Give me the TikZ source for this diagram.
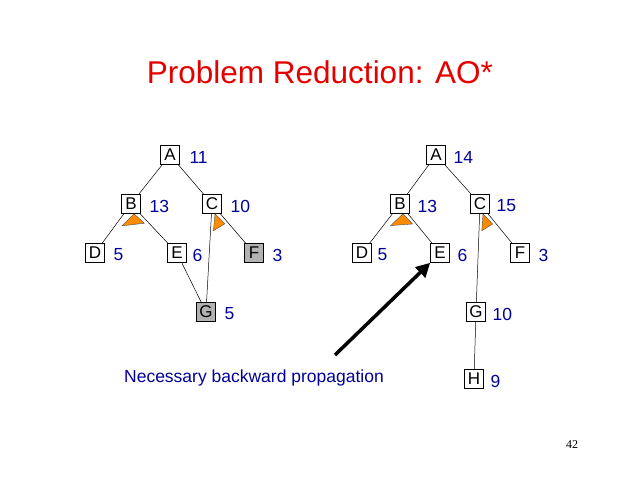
\documentclass[tikz,border=0pt]{standalone}
\usepackage{fontspec}
\setmainfont{Liberation Sans}
\newfontfamily\serifnum{Liberation Serif}
\usetikzlibrary{calc,arrows.meta}
\begin{document}
\begin{tikzpicture}[x=1pt,y=-1pt,
  box/.style={draw,line width=0.6pt,fill=white,minimum width=19pt,minimum height=19pt,inner sep=0pt,font=\fontsize{17}{17}\selectfont},
  gbox/.style={box,fill=gray!60},
  val/.style={text=blue!60!black,font=\fontsize{17.5}{17.5}\selectfont,anchor=west},
  edge/.style={line width=0.5pt},
  andarc/.style={fill=orange!90!yellow,draw=black!70,line width=0.4pt}]
\useasboundingbox (0,0) rectangle (638,479);
\node[text=red!90!black,font=\fontsize{31.5}{31.5}\selectfont] (title) at (320,72) {Problem Reduction: AO*};
% left tree
\node[box] (A1) at (170,155) {A};
\node[box] (B1) at (131,204) {B};
\node[box] (C1) at (212,204) {C};
\node[box] (D1) at (95,253) {D};
\node[box] (E1) at (177,253) {E};
\node[gbox] (F1) at (254,253) {F};
\node[gbox] (G1) at (206,312) {G};
\node[val] (a1) at (186,157) {11};
\node[val] (b1) at (146,206) {13};
\node[val] (c1) at (227,206) {10};
\node[val] (d1) at (110,255) {5};
\node[val] (e1) at (189,255) {6};
\node[val] (f1) at (269,255) {3};
\node[val] (g1) at (221,314) {5};
\draw[edge] (A1) -- (B1); \draw[edge] (A1) -- (C1);
\draw[edge] (B1) -- (D1); \draw[edge] (B1) -- (E1);
\draw[edge] (C1) -- (G1); \draw[edge] (C1) -- (F1);
\draw[edge] (E1) -- (G1);
% right tree
\node[box] (A2) at (436,155) {A};
\node[box] (B2) at (400,204) {B};
\node[box] (C2) at (480,204) {C};
\node[box] (D2) at (362,253) {D};
\node[box] (E2) at (440,253) {E};
\node[box] (F2) at (520,253) {F};
\node[box] (G2) at (476,312) {G};
\node[box] (H2) at (474,379) {H};
\node[val] (a2) at (450,157) {14};
\node[val] (b2) at (414,206) {13};
\node[val] (c2) at (493,206) {15};
\node[val] (d2) at (374,255) {5};
\node[val] (e2) at (454,255) {6};
\node[val] (f2) at (535,255) {3};
\node[val] (g2) at (489,314) {10};
\node[val] (h2) at (487,381) {9};
\draw[edge] (A2) -- (B2); \draw[edge] (A2) -- (C2);
\draw[edge] (B2) -- (D2); \draw[edge] (B2) -- (E2);
\draw[edge] (C2) -- (G2); \draw[edge] (C2) -- (F2);
\draw[edge] (G2) -- (H2);
% AND arcs
\foreach \p/\l/\r in {B1/D1/E1,C1/G1/F1,B2/D2/E2,C2/G2/F2}{
  \coordinate (ap) at ($(\p.south)+(3,0)$);
  \draw[andarc] (ap) -- ($(ap)!17pt!(\l)$) -- ($(ap)!14pt!(\r)$) -- cycle;
}
% arrow
\coordinate (s) at (335,355);
\draw[line width=3.5pt,-{Triangle[length=14pt,width=14pt]}] (s) -- (E2.south west);
\node[text=blue!60!black,font=\fontsize{17.5}{17.5}\selectfont] (lab) at (254,378) {Necessary backward propagation};
\node[font=\serifnum\fontsize{12}{12}\selectfont] (pg) at (572,445) {42};
\end{tikzpicture}
\end{document}
